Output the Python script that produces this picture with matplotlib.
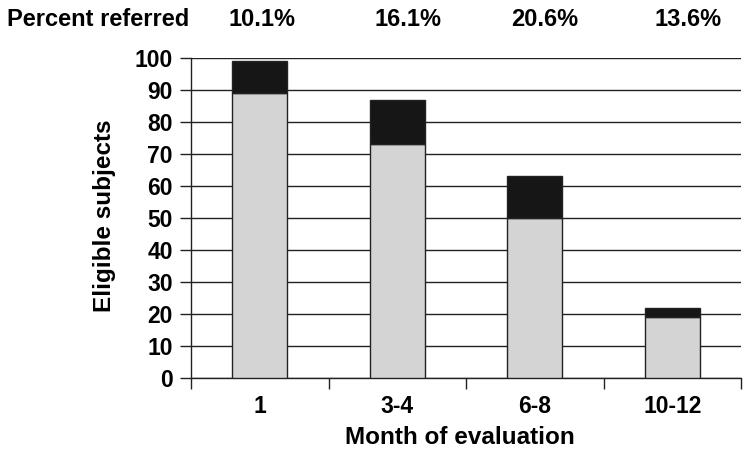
import matplotlib.pyplot as plt
import numpy as np

plt.rcParams['font.family'] = ['Liberation Sans', 'DejaVu Sans']

months = ['1', '3-4', '6-8', '10-12']
not_referred = [89, 73, 50, 19]
referred = [10, 14, 13, 3]
percent_labels = ['10.1%', '16.1%', '20.6%', '13.6%']

fig = plt.figure(figsize=(7.51, 4.58), dpi=100)
ax = fig.add_axes([191 / 751, 1 - 378 / 458, 550 / 751, 320 / 458])

x = np.arange(len(months))
ax.bar(x, not_referred, width=0.4, color='#d4d4d4', edgecolor='#222222', linewidth=1, zorder=3)
ax.bar(x, referred, width=0.4, bottom=not_referred, color='#161616', edgecolor='#222222',
       linewidth=1, zorder=3)

ax.set_xlim(-0.5, 3.5)
ax.set_ylim(0, 100)
ax.set_yticks(range(0, 101, 10))
ax.yaxis.grid(True, color='#222222', linewidth=1, zorder=0)

ax.set_xticks(x)
ax.set_xticklabels(months)
ax.set_xticks(np.arange(-0.5, 4, 1), minor=True)
ax.tick_params(axis='x', which='major', length=0, pad=12)
ax.tick_params(axis='x', which='minor', length=8, width=1, color='#222222')
ax.tick_params(axis='y', length=8, width=1, color='#222222', pad=5)
for lab in ax.get_xticklabels() + ax.get_yticklabels():
    lab.set_fontsize(16.5)
    lab.set_fontweight('bold')

for side in ['top', 'right']:
    ax.spines[side].set_visible(False)
for side in ['left', 'bottom']:
    ax.spines[side].set_color('#222222')
    ax.spines[side].set_linewidth(1)

fig.text(105 / 751, 1 - 216 / 458, 'Eligible subjects', fontsize=17.5, fontweight='bold',
         rotation=90, ha='center', va='center')
fig.text(460 / 751, 1 - 438 / 458, 'Month of evaluation', fontsize=17.5, fontweight='bold',
         ha='center', va='center')

fig.text(7 / 751, 1 - 19 / 458, 'Percent referred', fontsize=17,
         fontweight='bold', va='center', ha='left')
label_x = [262, 408, 545, 688]
for px, lab in zip(label_x, percent_labels):
    fig.text(px / 751, 1 - 19 / 458, lab, fontsize=17,
             fontweight='bold', va='center', ha='center')

fig.savefig('out.png', dpi=100)
